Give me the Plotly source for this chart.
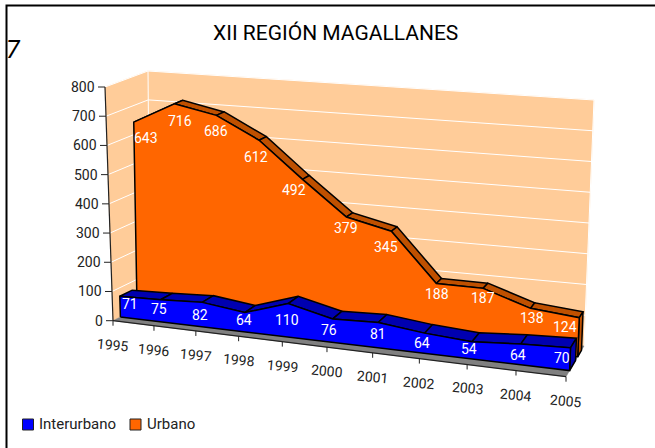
import plotly.graph_objects as go

years = ["1995","1996","1997","1998","1999","2000","2001","2002","2003","2004","2005"]
interurbano = [71,75,82,64,110,76,81,64,54,64,70]
urbano = [643,716,686,612,492,379,345,188,187,138,124]
value_ticks = [0,100,200,300,400,500,600,700,800]

# hand placement of the data labels relative to their points (pixels)
urb_dx = [11,4.6,-1.8,-4.2,-9.6,-1,-6.4,0.2,-1.2,0.4,-15]
urb_dy = [16,18,16,17,11,12,16,11,10,10,10]
int_dx = [10,-1.7,-2.4,-1.1,-0.8,-3.5,-0.2,-1.9,-2.6,-2.3,-8]
int_dy = [-3,-2,0,-2,0,-1,-1,0,-1,1,-1]

WALL="#FFCC99"; ORANGE="#FF6600"; ORANGE_D="#BF5000"; BLUE="#0000FF"; BLUE_D="#0000B0"; GRAY="#808080"
FONT="Roboto"; INK="#222222"

# view geometry of the pseudo-3D box, in page pixels
C = {(0,0,0):(113,320.7),(0,1,0):(105,87),(1,0,0):(566,376.7),(1,1,0):(576,114),
     (0,0,1):(150,302),(0,1,1):(148,71),(1,0,1):(584,346),(1,1,1):(594,100)}
K = 1.117
VMAX = 800.0; N = 10.0

def proj(i, v, z):
    u = i/N; u = u/(K-(K-1)*u); w = v/VMAX
    x = y = 0.0
    for (a,b,c),(px,py) in C.items():
        f = (u if a else 1-u)*(w if b else 1-w)*(z if c else 1-z)
        x += f*px; y += f*py
    return x, y

fig = go.Figure()
def poly(pts, fill, line=None, width=1.5):
    xs=[p[0] for p in pts]+[pts[0][0]]; ys=[p[1] for p in pts]+[pts[0][1]]
    fig.add_trace(go.Scatter(x=xs,y=ys,mode="lines",fill="toself",fillcolor=fill,
        line=dict(color=line or fill,width=width if line else 0.5),hoverinfo="skip",showlegend=False))
def seg(pts,color,width=1):
    fig.add_trace(go.Scatter(x=[p[0] for p in pts],y=[p[1] for p in pts],mode="lines",
        line=dict(color=color,width=width),hoverinfo="skip",showlegend=False))
def txt(x,y,s,size=14,color=INK,angle=0,anchor="center",italic=False):
    fig.add_annotation(x=x,y=y,text=s,showarrow=False,textangle=angle,xanchor=anchor,yanchor="middle",
        font=dict(family=FONT,size=size,color=color,style="italic" if italic else "normal"))

# walls
poly([proj(0,0,0),proj(0,800,0),proj(0,800,1),proj(0,0,1)],WALL)
poly([proj(0,0,1),proj(0,800,1),proj(10,800,1),proj(10,0,1)],WALL)
for v in value_ticks[1:]:
    seg([proj(0,v,0),proj(0,v,1),proj(10,v,1)],"white",1)
seg([proj(0,0,1),proj(0,800,1)],"white",1)
seg([proj(10,0,1),proj(10,800,1)],"white",1)
# floor
poly([proj(0,0,0),proj(10,0,0),proj(10,0,1),proj(0,0,1)],GRAY)

def area(vals,z0,z1,front,dark):
    for i in range(len(vals)-1):
        poly([proj(i,vals[i],z0),proj(i+1,vals[i+1],z0),proj(i+1,vals[i+1],z1),proj(i,vals[i],z1)],dark,"black")
    last=len(vals)-1
    poly([proj(last,0,z0),proj(last,vals[-1],z0),proj(last,vals[-1],z1),proj(last,0,z1)],dark,"black")
    pts=[proj(0,0,z0)]+[proj(i,v,z0) for i,v in enumerate(vals)]+[proj(last,0,z0)]
    poly(pts,front,"black")

area(urbano,0.65,0.86,ORANGE,ORANGE_D)
area(interurbano,0.20,0.53,BLUE,BLUE_D)

# axes
seg([proj(0,0,0),proj(0,800,0)],"#222222",1.2)
seg([proj(0,0,0),proj(10,0,0)],"#222222",1.2)
for v in value_ticks:
    x,y=proj(0,v,0)
    seg([(x-7,y),(x,y)],"#222222",1)
    txt(x-8,y,str(v),14,anchor="right")
for i,yr in enumerate(years):
    x,y=proj(i,0,0)
    seg([(x,y),(x,y+5)],"#222222",1)
    txt(x,y+24,yr,14,angle=5)

# data labels
for i,v in enumerate(urbano):
    x,y=proj(i,v,0.68)
    txt(x+urb_dx[i],y+urb_dy[i],str(v),14,"white")
for i,v in enumerate(interurbano):
    x,y=proj(i,v/2,0.20)
    txt(x+int_dx[i],y+int_dy[i],str(v),14,"white")

# title, stray glyph, legend
txt(335.5,33,"XII REGIÓN MAGALLANES",21,"black")
txt(13,49,"7",25,"black",italic=True)
fig.add_trace(go.Scatter(x=[28],y=[424.5],mode="markers",showlegend=False,hoverinfo="skip",
    marker=dict(symbol="square",size=11,color=BLUE,line=dict(color="#222222",width=1))))
fig.add_trace(go.Scatter(x=[135.5],y=[424.5],mode="markers",showlegend=False,hoverinfo="skip",
    marker=dict(symbol="square",size=11,color=ORANGE,line=dict(color="#222222",width=1))))
txt(37,424,"Interurbano",15,anchor="left")
txt(145,424,"Urbano",15,anchor="left")

# page frame
seg([(6.5,448),(6.5,5.5),(655,5.5)],"black",2)

fig.update_layout(width=655,height=448,margin=dict(l=0,r=0,t=0,b=0),paper_bgcolor="white",plot_bgcolor="white",
    xaxis=dict(range=[0,655],visible=False,fixedrange=True),
    yaxis=dict(range=[448,0],visible=False,fixedrange=True),showlegend=False)
fig.write_html("out.html",config={"displayModeBar":False},
    post_script="document.body.style.margin='0';document.body.style.overflow='hidden';")
